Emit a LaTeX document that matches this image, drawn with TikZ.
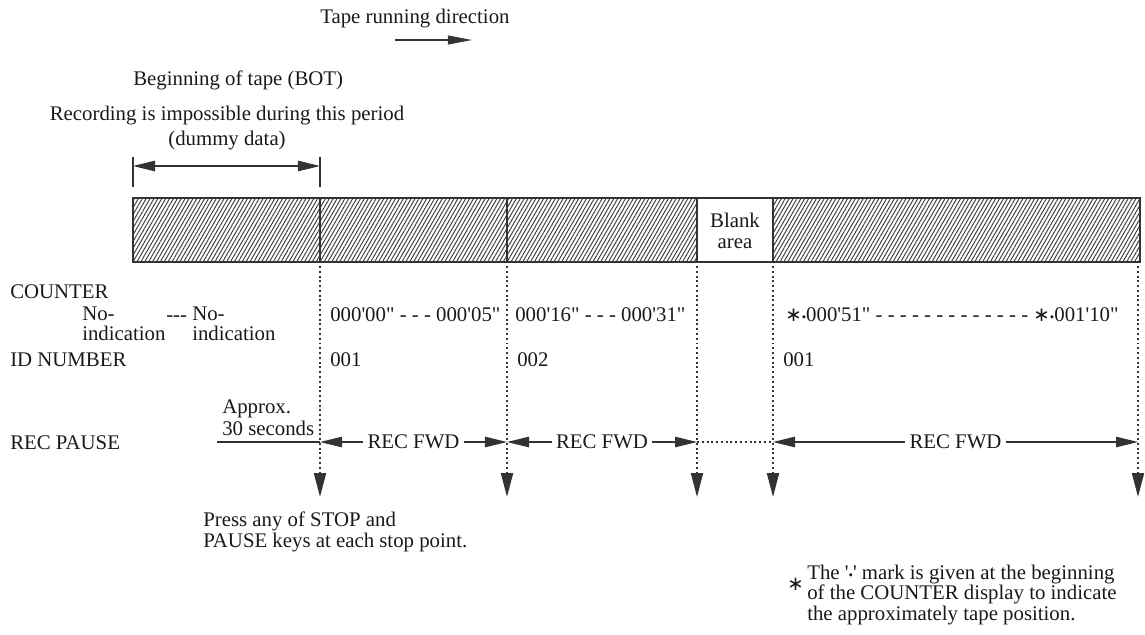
\documentclass[tikz,border=0pt]{standalone}
\usepackage{fontspec}
\setmainfont[Ligatures=TeXOff]{Liberation Serif}
\newfontfamily\symfont{DejaVu Sans}
\usetikzlibrary{arrows.meta, patterns.meta}
\newcommand{\starmark}{{\symfont\fontsize{14}{14}\selectfont ∗}}
\newcommand{\dotmark}{{\fontsize{9}{9}\selectfont •}}

\begin{document}
\begin{tikzpicture}[x=0.025cm, y=-0.025cm,
    every node/.style={font=\fontsize{14.8}{11}\selectfont, inner sep=0pt, text=black!90},
    lbl/.style={anchor=base west},
    tape/.style={draw=black!80, line width=0.9pt,
      pattern={Lines[angle=60, distance=2.4pt, line width=0.7pt]}, pattern color=black!75},
    edge/.style={draw=black!80, line width=0.9pt},
    tip/.style={edge, -{Triangle[length=6mm, width=2.2mm]}},
    fwd/.style={edge, {Triangle[length=5.5mm, width=2.6mm]}-{Triangle[length=5.5mm, width=2.6mm]}},
    dots/.style={draw=black!80, line width=1.4pt, dash pattern=on 1.4pt off 2pt},
    stopline/.style={dots, -{Triangle[length=6mm, width=3mm]}},
    gap/.style={fill=white, inner xsep=3pt}]
  \useasboundingbox (0,0) rectangle (1145,634);

  % heading and running direction
  \node[lbl] (dir) at (320,23) {Tape running direction};
  \coordinate (dirL) at (395,40);
  \coordinate (dirR) at (472,40);
  \draw[tip] (dirL) -- (dirR);
  \node[lbl] (bot) at (133,85) {Beginning of tape (BOT)};
  \node[anchor=base, align=center] (rec) at (227,145) {Recording is impossible during this period\\[3pt](dummy data)};

  % dummy data span
  \coordinate (dmL) at (133,166);
  \coordinate (dmR) at (320,166);
  \draw[edge] (133,157) -- (133,187) (320,157) -- (320,187);
  \draw[fwd] (dmL) -- (dmR);

  % the tape
  \draw[tape] (133,198) rectangle (697,262);
  \draw[tape] (773,198) rectangle (1140,262);
  \draw[edge] (320,198) -- (320,262) (507,198) -- (507,262);
  \draw[edge, fill=white] (697,198) rectangle (773,262);
  \node[align=center] (blank) at (735,231) {Blank\\[4pt]area};

  % stop points
  \foreach \n/\x in {a/320, b/507, c/697, d/773, e/1138} {
    \coordinate (top-\n) at (\x,266);
    \coordinate (pt-\n) at (\x,442);
    \coordinate (end-\n) at (\x,497);
    \draw[stopline] (top-\n) -- (end-\n);
  }

  % COUNTER row
  \node[lbl] (cnt) at (10,298) {COUNTER};
  \node[lbl, align=left] (no1) at (82,340) {No-\\[3pt]indication};
  \node[lbl] (dash1) at (166,321) {---};
  \node[lbl, align=left] (no2) at (192,340) {No-\\[3pt]indication};
  \node[lbl] (c1) at (330,321) {000'00" - - - 000'05"};
  \node[lbl] (c2) at (515,321) {000'16" - - - 000'31"};
  \node[lbl] (c3) at (785,321) {\starmark\dotmark000'51" - - - - - - - - - - - - - \starmark\dotmark001'10"};

  % ID NUMBER row
  \node[lbl] (idn) at (10,366) {ID NUMBER};
  \node[lbl] (id1) at (330,366) {001};
  \node[lbl] (id2) at (517,366) {002};
  \node[lbl] (id3) at (783,366) {001};

  % REC PAUSE row
  \node[lbl] (pause) at (10,449) {REC PAUSE};
  \node[lbl, align=left] (approx) at (222,435) {Approx.\\[1pt]30 seconds};
  \coordinate (ps) at (217,442);
  \draw[edge] (ps) -- (pt-a);
  \draw[fwd] (pt-a) -- node[gap] (f1) {REC FWD} (pt-b);
  \draw[fwd] (pt-b) -- node[gap] (f2) {REC FWD} (pt-c);
  \draw[dots] (pt-c) -- (pt-d);
  \draw[fwd] (pt-d) -- node[gap] (f3) {REC FWD} (pt-e);

  % notes
  \node[lbl, align=left] (press) at (203,547) {Press any of STOP and\\PAUSE keys at each stop point.};
  \node[lbl] (fnstar) at (787,590) {\starmark};
  \node[lbl, align=left] (fn) at (807,620) {The '\dotmark' mark is given at the beginning\\of the COUNTER display to indicate\\the approximately tape position.};
\end{tikzpicture}
\end{document}
